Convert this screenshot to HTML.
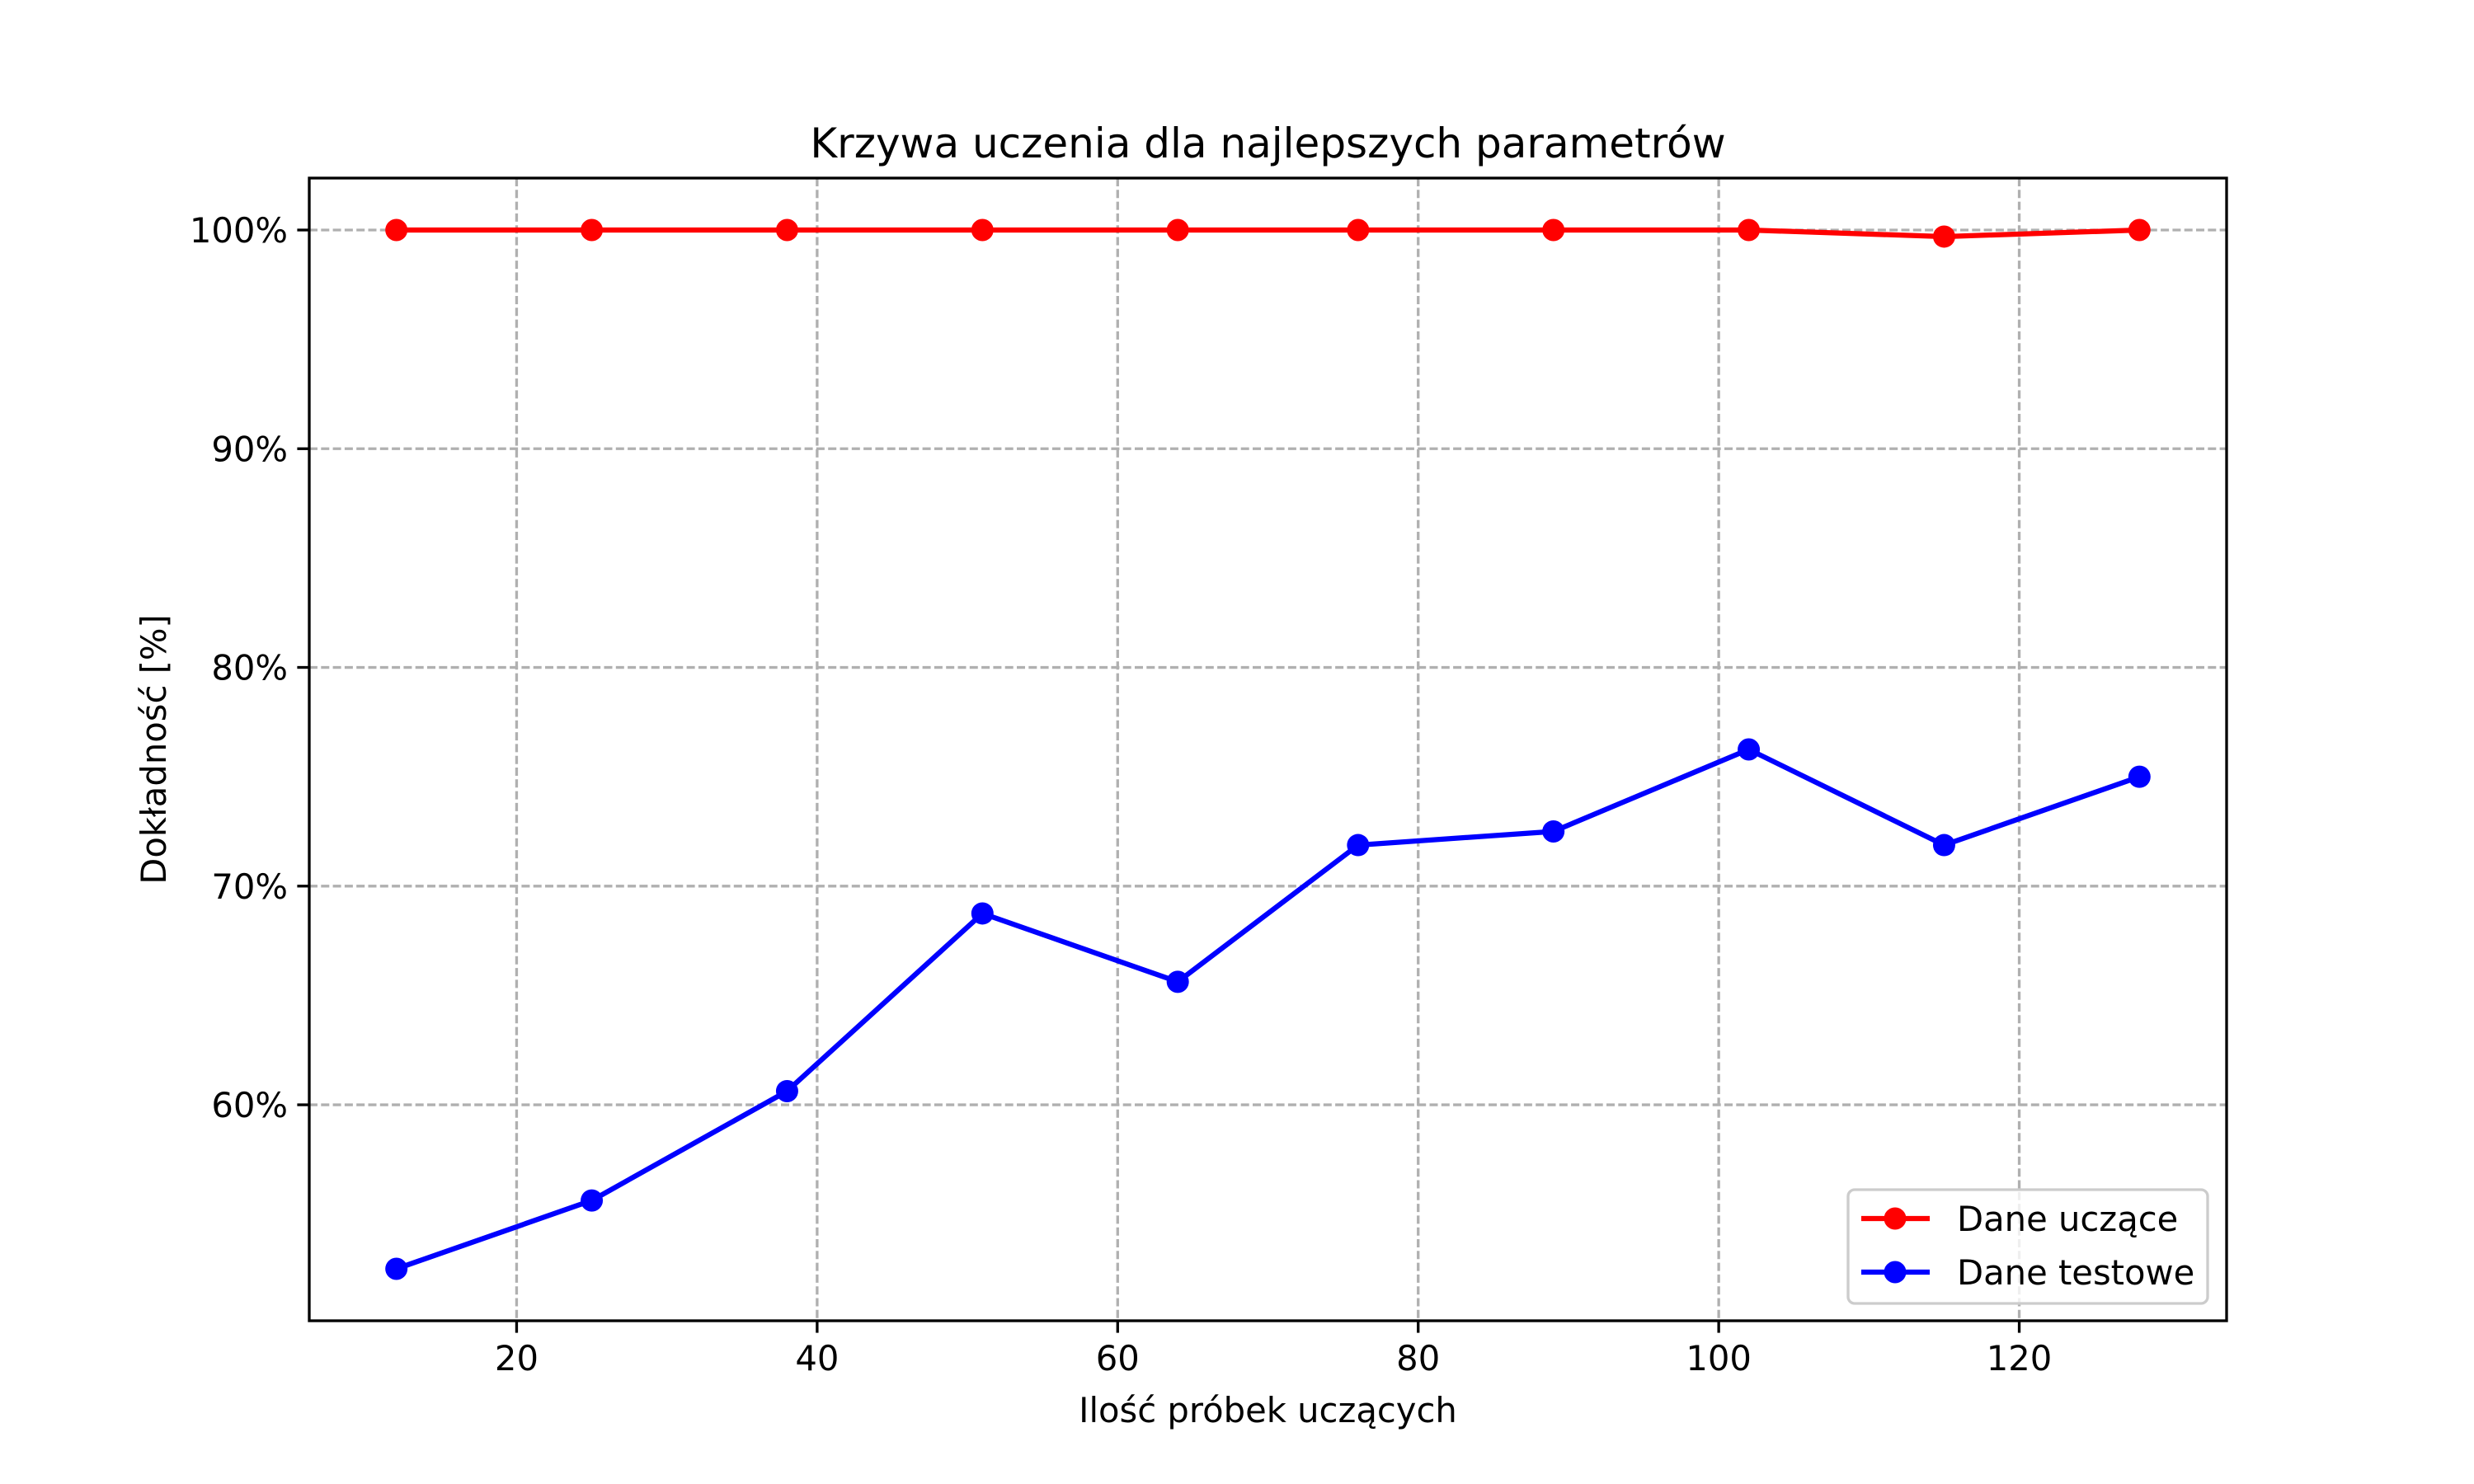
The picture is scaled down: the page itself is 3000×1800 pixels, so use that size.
<!DOCTYPE html>
<html><head><meta charset="utf-8"><style>html,body{margin:0;padding:0;background:#fff}svg{display:block}text{font-family:"DejaVu Sans","Liberation Sans",sans-serif;fill:#000}</style></head>
<body>
<svg id="chart" width="3000" height="1800" viewBox="0 0 3000 1800" xmlns="http://www.w3.org/2000/svg">
<rect width="3000" height="1800" fill="#fff"/>
<text x="1537.5" y="191" font-size="50" text-anchor="middle">Krzywa uczenia dla najlepszych parametrów</text>
<g id="grid"></g><g id="ticks"></g><g id="series"></g>
<rect x="375" y="216" width="2325" height="1386" fill="none" stroke="#000" stroke-width="3.33"/>
<text x="1537.5" y="1725" font-size="41.7" text-anchor="middle">Ilość próbek uczących</text>
<text x="0" y="0" font-size="41.7" text-anchor="middle" transform="translate(201,909) rotate(-90)">Dokładność [%]</text>
<g>
<rect x="2241" y="1443" width="436" height="138" rx="8" fill="#fff" fill-opacity="0.8" stroke="#ccc" stroke-width="3.33"/>
<line x1="2257" y1="1478" x2="2340" y2="1478" stroke="#f00" stroke-width="6.25"/><circle cx="2298" cy="1478" r="13.5" fill="#f00"/>
<text x="2373" y="1493" font-size="41.7">Dane uczące</text>
<line x1="2257" y1="1543" x2="2340" y2="1543" stroke="#00f" stroke-width="6.25"/><circle cx="2298" cy="1543" r="13.5" fill="#00f"/>
<text x="2373" y="1558" font-size="41.7">Dane testowe</text>
</g>
</svg>
<script>
const xValues=[12,25,38,51,64,76,89,102,115,128];
const trainAcc=[1,1,1,1,1,1,1,1,0.997,1];
const testAcc=[0.525,0.55625,0.60625,0.6875,0.65625,0.71875,0.725,0.7625,0.71875,0.75];
const xTicks=[20,40,60,80,100,120];
const yTicks=[0.6,0.7,0.8,0.9,1.0];
const NS="http://www.w3.org/2000/svg";
const L=375,R=2700,T=216,B=1602,xmin=6.2,xmax=133.8,ymin=0.50125,ymax=1.02375;
const sx=v=>L+(v-xmin)/(xmax-xmin)*(R-L);
const sy=v=>B-(v-ymin)/(ymax-ymin)*(B-T);
function mk(tag,attrs,parent){const e=document.createElementNS(NS,tag);for(const k in attrs)e.setAttribute(k,attrs[k]);document.getElementById(parent).appendChild(e);return e;}
xTicks.forEach(t=>{const x=sx(t);
const g=mk('line',{x1:x,x2:x,y1:T,y2:B,stroke:'#b0b0b0','stroke-width':3.33,'stroke-dasharray':'10,4.3'},'grid');


mk('line',{x1:x,x2:x,y1:B,y2:B+14.6,stroke:'#000','stroke-width':3.33},'ticks');
const tx=mk('text',{x:x,y:B+60,'font-size':41.7,'text-anchor':'middle'},'ticks');tx.textContent=t;

});
yTicks.forEach(t=>{const y=sy(t);
const g=mk('line',{x1:L,x2:R,y1:y,y2:y,stroke:'#b0b0b0','stroke-width':3.33,'stroke-dasharray':'10,4.3'},'grid');


mk('line',{x1:L-14.6,x2:L,y1:y,y2:y,stroke:'#000','stroke-width':3.33},'ticks');
const tx=mk('text',{x:L-26,y:y+15,'font-size':41.7,'text-anchor':'end'},'ticks');tx.textContent=Math.round(t*100)+'%';

});
[[trainAcc,'#f00','train'],[testAcc,'#00f','test']].forEach(([d,c,n])=>{
const pl=mk('polyline',{points:d.map((v,i)=>sx(xValues[i])+','+sy(v)).join(' '),fill:'none',stroke:c,'stroke-width':6.25,'stroke-linejoin':'round'},'series');


d.forEach((v,i)=>{const p=mk('circle',{cx:sx(xValues[i]),cy:sy(v),r:13.5,fill:c},'series');

});});
</script>
</body></html>
